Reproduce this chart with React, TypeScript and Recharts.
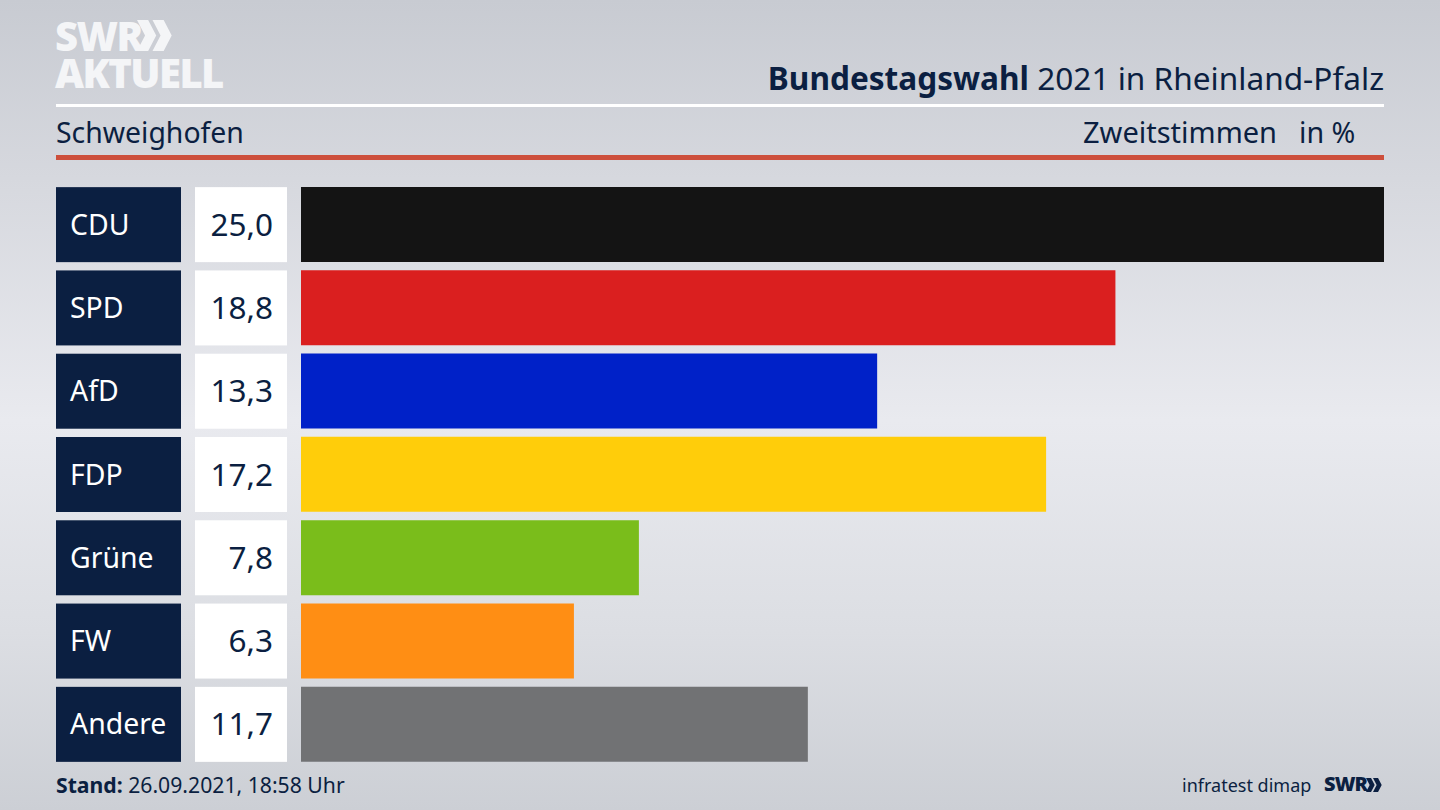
import { BarChart, Bar, Cell, XAxis, YAxis } from "recharts";

const parties = ["CDU", "SPD", "AfD", "FDP", "Grüne", "FW", "Andere"];
const shares = [25.0, 18.8, 13.3, 17.2, 7.8, 6.3, 11.7];
const colors = ["#141414", "#da1f1f", "#0021c8", "#ffcd0a", "#7abd1b", "#ff8e14", "#717274"];

const data = parties.map((party, i) => ({ party, share: shares[i] }));

const NAVY = "#0b1f41";
const FONT = "'Noto Sans', sans-serif";

function formatShare(v: number) {
  return v.toFixed(1).replace(".", ",");
}

// draws the party box and the white value box to the left of each bar
function PartyTick({ x, y, payload, index }: any) {
  const left = x - 237;
  return (
    <g>
      <rect x={left} y={y - 37.5} width={125} height={75} fill={NAVY} />
      <text x={left + 14} y={y + 10} fontSize={28.4} fill="#fff" fontFamily={FONT}>
        {payload.value}
      </text>
      <rect x={left + 139} y={y - 37.5} width={92} height={75} fill="#fff" />
      <text x={left + 217} y={y + 11} fontSize={31.5} fill={NAVY} textAnchor="end" fontFamily={FONT}>
        {formatShare(shares[index])}
      </text>
    </g>
  );
}

function Label({ style, children }: any) {
  return (
    <div style={{ position: "absolute", whiteSpace: "nowrap", color: NAVY, fontFamily: FONT, ...style }}>
      {children}
    </div>
  );
}

function Chevrons({ x, y, h, fill }: { x: number; y: number; h: number; fill: string }) {
  const w = h * 0.62;
  const t = h * 0.36;
  const gap = h * 0.5;
  const shape = (o: number) =>
    `${o},0 ${o + t},0 ${o + w},${h / 2} ${o + t},${h} ${o},${h} ${o + w - t},${h / 2}`;
  return (
    <svg style={{ position: "absolute", left: x, top: y }} width={w + gap + 1} height={h}>
      <polygon points={shape(0)} fill={fill} />
      <polygon points={shape(gap)} fill={fill} />
    </svg>
  );
}

export default function App() {
  return (
    <div
      style={{
        position: "absolute",
        left: 0,
        top: 0,
        width: 1440,
        height: 810,
        overflow: "hidden",
        background: "linear-gradient(180deg, #c8cbd2 0%, #d6d8de 22%, #e9eaef 52%, #dcdee3 78%, #ccCfd5 100%)",
      }}
    >
      <Label style={{ left: 55, top: 17, fontSize: 40, lineHeight: "37px", fontWeight: 800, color: "#f4f5f7", fontFamily: "'Open Sans', sans-serif", letterSpacing: -1.6 }}>
        SWR
        <br />
        AKTUELL
      </Label>
      <Chevrons x={137} y={20} h={31} fill="#f4f5f7" />

      <Label style={{ right: 56, top: 57, fontSize: 31.6, lineHeight: "42px" }}>
        <b>Bundestagswahl</b> 2021 in Rheinland-Pfalz
      </Label>
      <div style={{ position: "absolute", left: 56, top: 104, width: 1328, height: 3, background: "#fff" }} />
      <Label style={{ left: 56, top: 112, fontSize: 28.4, lineHeight: "40px" }}>Schweighofen</Label>
      <Label style={{ left: 1083, top: 112, fontSize: 29, lineHeight: "40px" }}>Zweitstimmen</Label>
      <Label style={{ left: 1299, top: 112, fontSize: 28.6, lineHeight: "40px" }}>in %</Label>
      <div style={{ position: "absolute", left: 56, top: 155, width: 1328, height: 5, background: "#cd4f3c" }} />

      <div style={{ position: "absolute", left: 0, top: 0 }}>
        <BarChart
          width={1440}
          height={810}
          data={data}
          layout="vertical"
          margin={{ top: 183, right: 56, bottom: 44, left: 56 }}
          barCategoryGap={0}
        >
          <XAxis type="number" domain={[0, 25]} hide />
          <YAxis
            type="category"
            dataKey="party"
            width={245}
            axisLine={false}
            tickLine={false}
            tick={PartyTick}
            interval={0}
          />
          <Bar dataKey="share" barSize={75} isAnimationActive={false}>
            {parties.map((p, i) => (
              <Cell key={p} fill={colors[i]} />
            ))}
          </Bar>
        </BarChart>
      </div>

      <Label style={{ left: 56, top: 770, fontSize: 21.2, lineHeight: "30px" }}>
        <b>Stand:</b> 26.09.2021, 18:58 Uhr
      </Label>
      <Label style={{ left: 1182, top: 771, fontSize: 18, lineHeight: "28px" }}>infratest dimap</Label>
      <Label style={{ left: 1324, top: 770, fontSize: 20, lineHeight: "28px", fontWeight: 800, fontFamily: "'Open Sans', sans-serif", letterSpacing: -0.9 }}>
        SWR
      </Label>
      <Chevrons x={1366} y={778} h={14} fill={NAVY} />
    </div>
  );
}
